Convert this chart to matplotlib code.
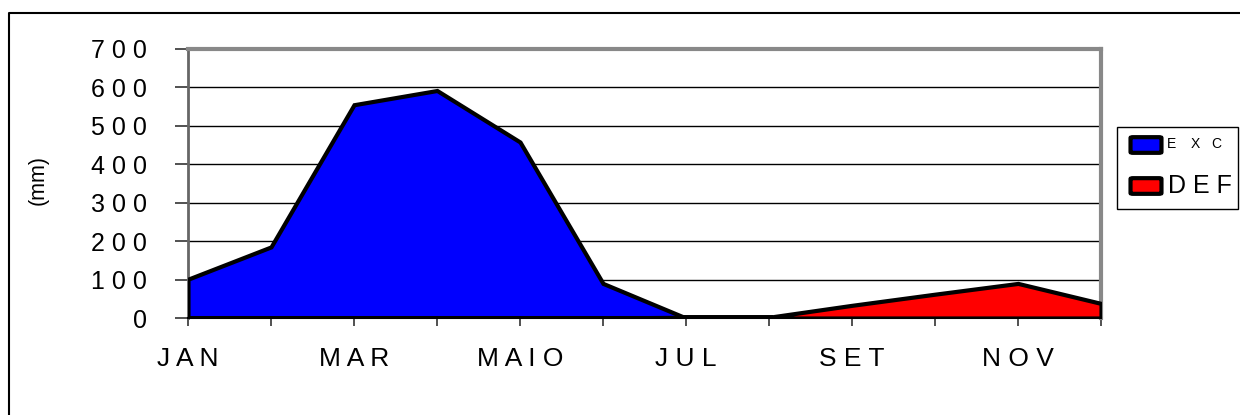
import numpy as np
import matplotlib
matplotlib.use('Agg')
import matplotlib.pyplot as plt
from matplotlib.patches import Rectangle, FancyBboxPatch
from matplotlib.lines import Line2D

plt.rcParams['font.family'] = ['Liberation Sans', 'DejaVu Sans']

#==============================================================================
# Data
#==============================================================================
months = ['JAN', 'FEV', 'MAR', 'ABR', 'MAIO', 'JUN',
          'JUL', 'AGO', 'SET', 'OUT', 'NOV', 'DEZ']
exc = [101, 185, 555, 592, 458, 90, 0, 0, 0, 0, 0, 0]
dfc = [0, 0, 0, 0, 0, 0, 2, 2, 33, 62, 90, 38]
yticks = [0, 100, 200, 300, 400, 500, 600, 700]

def spaced(s):
    return ' '.join(list(s))

#==============================================================================
# Figure
#==============================================================================
fig = plt.figure(figsize=(12.4, 4.15), dpi=100)
ax = fig.add_axes([188/1240, 97/415, 913/1240, 269/415])

x = np.arange(len(months))
ax.fill_between(x, 0, exc, facecolor='#0000ff', edgecolor='black',
                linewidth=3, joinstyle='miter', zorder=3)
ax.fill_between(x, 0, dfc, facecolor='#ff0000', edgecolor='black',
                linewidth=3, joinstyle='miter', zorder=3)
ax.plot([6, 7], [0, 0], color='black', linewidth=5, zorder=4)

ax.set_xlim(0, len(months) - 1)
ax.set_ylim(0, 700)

ax.set_yticks(yticks)
ax.set_yticklabels([spaced(str(v)) for v in yticks], fontsize=18)
ax.set_xticks(x)
ax.set_xticklabels([spaced(m) if i % 2 == 0 else '' for i, m in enumerate(months)],
                   fontsize=19)
ax.tick_params(axis='y', length=9.5, width=1.2, pad=20, color='#333333')
ax.tick_params(axis='x', length=6, width=1.2, pad=15, color='#333333')

for v in yticks[1:-1]:
    ax.axhline(v, color='black', linewidth=1, zorder=1)

ax.spines['top'].set_color('#888888')
ax.spines['top'].set_linewidth(3)
ax.spines['right'].set_color('#888888')
ax.spines['right'].set_linewidth(3)
ax.spines['left'].set_color('#666666')
ax.spines['left'].set_linewidth(2)
ax.spines['bottom'].set_color('black')
ax.spines['bottom'].set_linewidth(1.5)

fig.text(38/1240, 1 - 180/415, '(mm)', rotation=90, fontsize=15.5,
         ha='center', va='center')

#==============================================================================
# Legend (drawn by hand)
#==============================================================================
W, H = 1240.0, 415.0
fig.patches.append(Rectangle((1117/W, 1 - 209/H), 121/W, 82/H,
                             transform=fig.transFigure, facecolor='white',
                             edgecolor='black', linewidth=1))
for yc, col in [(145, '#0000ff'), (186, '#ff0000')]:
    fig.patches.append(FancyBboxPatch((1133/W, 1 - (yc + 7)/H), 26/W, 14/H,
                                      boxstyle='round,pad=0.002',
                                      transform=fig.transFigure,
                                      facecolor=col, edgecolor='black',
                                      linewidth=3))
for xc, ch in zip([1172, 1195, 1216], 'EXC'):
    fig.text(xc/W, 1 - 144/H, ch, fontsize=10, va='center', ha='center')
fig.text(1168/W, 1 - 186/H, spaced('DEF'), fontsize=18, va='center', ha='left')

# outer border (top and left only visible)
fig.lines.append(Line2D([9/W, 9/W, 1.0], [0.0, 1 - 13/H, 1 - 13/H],
                        transform=fig.transFigure, color='black', linewidth=1.5))

fig.savefig('out.png', dpi=100)
